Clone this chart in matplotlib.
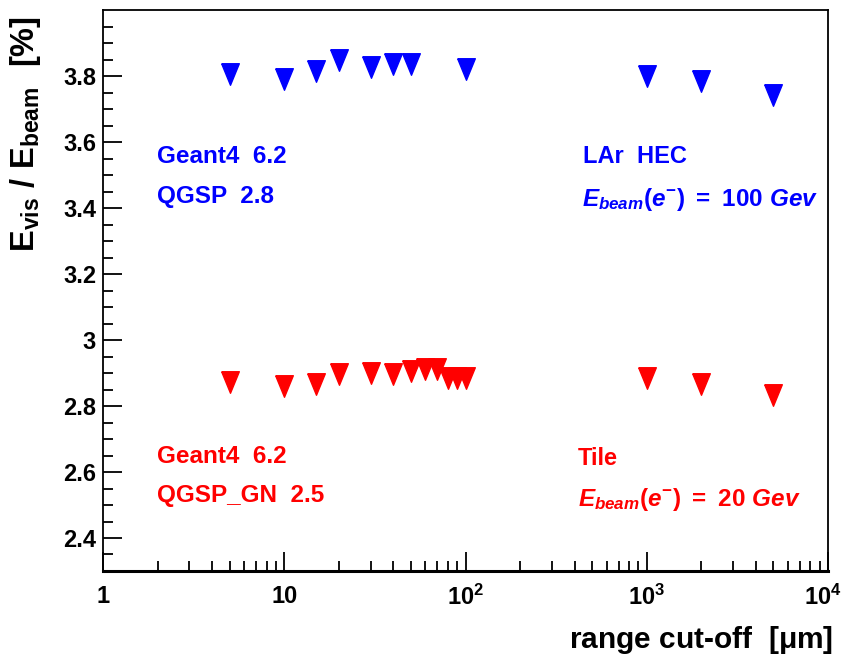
import numpy as np
import matplotlib
matplotlib.use("Agg")
import matplotlib.pyplot as plt
import matplotlib.transforms as mtransforms

plt.rcParams['font.family'] = ['Liberation Sans', 'DejaVu Sans']
plt.rcParams['font.weight'] = 'bold'
plt.rcParams['mathtext.fontset'] = 'custom'
plt.rcParams['mathtext.rm'] = 'Liberation Sans:bold'
plt.rcParams['mathtext.bf'] = 'Liberation Sans:bold'
plt.rcParams['mathtext.it'] = 'Liberation Sans:bold:italic'

# LAr HEC, 100 GeV electrons (QGSP 2.8)
cut_hec = [5, 10, 15, 20, 30, 40, 50, 100, 1000, 2000, 5000]
ratio_hec = [3.805, 3.792, 3.815, 3.850, 3.827, 3.837, 3.837, 3.822, 3.799, 3.786, 3.743]

# Tile, 20 GeV electrons (QGSP_GN 2.5)
cut_tile = [5, 10, 15, 20, 30, 40, 50, 60, 70, 80, 90, 100, 1000, 2000, 5000]
ratio_tile = [2.873, 2.862, 2.867, 2.896, 2.901, 2.896, 2.906, 2.913, 2.913,
              2.885, 2.885, 2.885, 2.884, 2.867, 2.833]

x_ticks = [1, 10, 100, 1000, 10000]
x_ticklabels = ['1', '10', r'$\mathbf{10^{2}}$', r'$\mathbf{10^{3}}$', r'$\mathbf{10^{4}}$']
y_ticks = [2.4, 2.6, 2.8, 3.0, 3.2, 3.4, 3.6, 3.8]
y_ticklabels = ['2.4', '2.6', '2.8', '3', '3.2', '3.4', '3.6', '3.8']

W, H = 843, 655
fig = plt.figure(figsize=(W / 100, H / 100), dpi=100)
ax = fig.add_axes([103 / W, 1 - 571 / H, (828 - 103) / W, (571 - 10) / H])

# ROOT-like downward triangle (taller than wide)
tri = [(-0.82, 1.0), (0.82, 1.0), (0.0, -1.0), (-0.82, 1.0)]
ax.plot(cut_hec, ratio_hec, ls='none', marker=tri, ms=15.5, color='#0000ff', mec='#0000ff')
ax.plot(cut_tile, ratio_tile, ls='none', marker=tri, ms=15.5, color='#ff0000', mec='#ff0000')

ax.set_xscale('log')
ax.set_xlim(1, 10000)
ax.set_ylim(2.3, 4.0)
ax.set_xticks(x_ticks)
ax.set_xticklabels(x_ticklabels)
ax.set_yticks(y_ticks)
ax.set_yticklabels(y_ticklabels)
ax.set_yticks(np.arange(2.35, 4.0, 0.05), minor=True)
ax.tick_params(axis='both', which='major', direction='in', length=14, width=1.3,
               labelsize=17, top=False, right=False)
ax.tick_params(axis='both', which='minor', direction='in', length=7, width=1.3,
               top=False, right=False)
ax.tick_params(axis='x', which='major', pad=10)
ax.tick_params(axis='y', which='major', pad=5)
for lab in ax.get_xticklabels() + ax.get_yticklabels():
    lab.set_fontweight('bold')
# pull the last x label in a little so it stays on the canvas
last = ax.get_xticklabels()[-1]
last.set_transform(last.get_transform() + mtransforms.ScaledTranslation(-5 / 100, 0, fig.dpi_scale_trans))
for s in ax.spines.values():
    s.set_linewidth(1.3)
ax.spines['bottom'].set_linewidth(2.2)

fs = 17.5
fig.text(157 / W, 1 - 163 / H, 'Geant4  6.2', color='#0000ff', fontsize=fs, fontweight='bold')
fig.text(157 / W, 1 - 203 / H, 'QGSP  2.8', color='#0000ff', fontsize=fs, fontweight='bold')
fig.text(157 / W, 1 - 463 / H, 'Geant4  6.2', color='#ff0000', fontsize=fs, fontweight='bold')
fig.text(157 / W, 1 - 502 / H, 'QGSP_GN  2.5', color='#ff0000', fontsize=fs, fontweight='bold')

fig.text(583 / W, 1 - 163 / H, 'LAr  HEC', color='#0000ff', fontsize=17, fontweight='bold')
fig.text(582 / W, 1 - 206 / H, r'$\mathit{E_{beam}(e^{-})\ =\ 100\ Gev}$',
         color='#0000ff', fontsize=17.5)
fig.text(578 / W, 1 - 465 / H, 'Tile', color='#ff0000', fontsize=17, fontweight='bold')
fig.text(578 / W, 1 - 506 / H, r'$\mathit{E_{beam}(e^{-})\ =\ 20\ Gev}$',
         color='#ff0000', fontsize=17.5)

fig.text(26 / W, 1 - 16 / H, r'$\mathbf{E_{vis}\ /\ E_{beam}\ \ [\%]}$',
         rotation=90, ha='center', va='top', fontsize=23.5)
fig.text(833 / W, 1 - 648 / H, r'range cut-off  [$\mathrm{\mu}$m]',
         ha='right', va='baseline', fontsize=21.5, fontweight='bold')

fig.savefig('out.png', dpi=100)
